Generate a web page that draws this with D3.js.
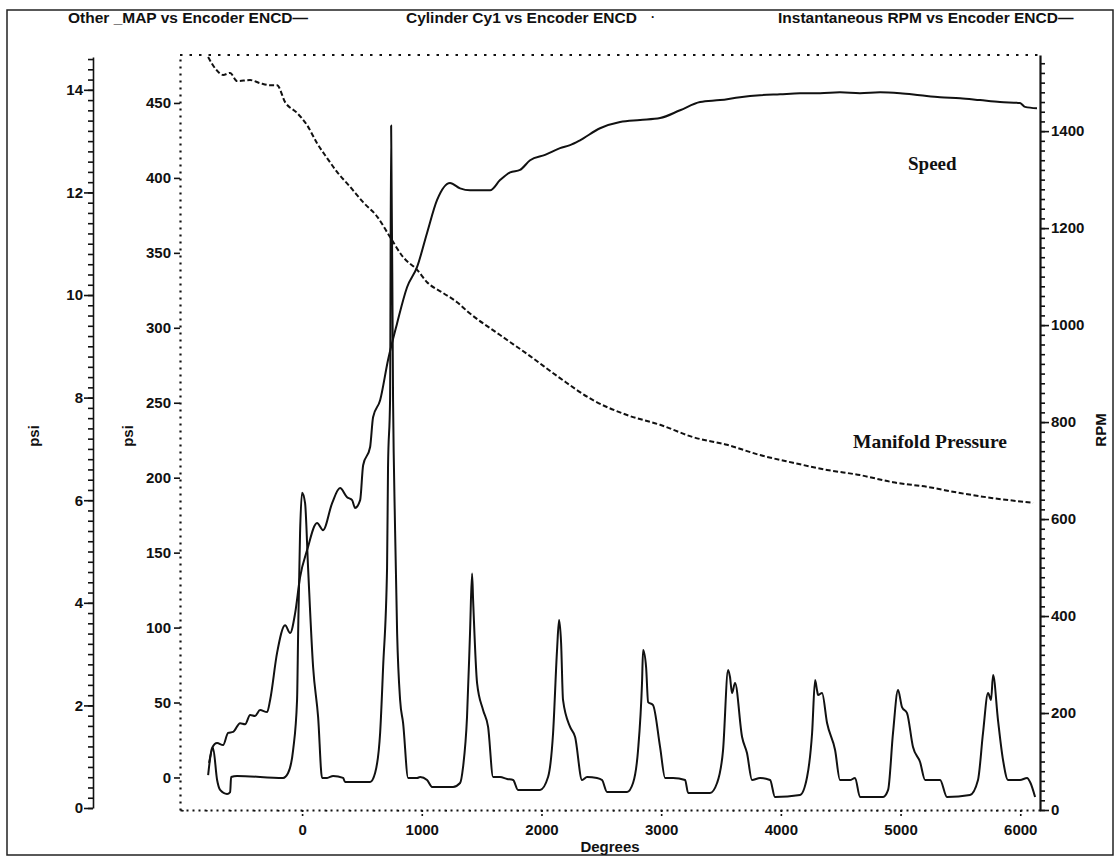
<!DOCTYPE html>
<html>
<head>
<meta charset="utf-8">
<script src="https://cdn.jsdelivr.net/npm/d3@7"></script>
<style>
  body { margin: 0; background: #fff; }
  svg { display: block; }
  text { font-family: "Liberation Sans", Arial, sans-serif; font-weight: bold; fill: #111; }
  .serif { font-family: "Liberation Serif", "Times New Roman", serif; }
</style>
</head>
<body>
<svg id="chart" width="1115" height="858"></svg>
<script>
// ---- Manifold pressure (psi) vs encoder angle (degrees)
const mapDeg = [-785, -727, -660, -601, -543, -434, -351, -267, -209, -142, -42, 42, 125, 209, 292, 401, 510, 627, 735, 844, 961, 1044, 1178, 1295, 1387, 1654, 1905, 2155, 2431, 2715, 2991, 3266, 3550, 3826, 4102, 4386, 4661, 4937, 5221, 5497, 5773, 6107];
const mapPsi = [14.64, 14.42, 14.29, 14.33, 14.17, 14.19, 14.13, 14.09, 14.09, 13.76, 13.55, 13.31, 12.96, 12.67, 12.40, 12.11, 11.81, 11.53, 11.13, 10.74, 10.49, 10.25, 10.04, 9.86, 9.67, 9.22, 8.81, 8.38, 7.95, 7.66, 7.47, 7.23, 7.08, 6.88, 6.73, 6.59, 6.49, 6.35, 6.26, 6.14, 6.04, 5.95];

// ---- Cylinder 1 pressure (psi) vs encoder angle (degrees)
const cylDeg = [-777, -744, -710, -685, -627, -601, -593, -543, -159, -117, -75, -42, -33, -17, 0, 25, 50, 92, 134, 167, 209, 259, 343, 359, 568, 610, 652, 677, 710, 718, 735, 744, 760, 777, 794, 819, 844, 886, 961, 986, 1044, 1086, 1261, 1320, 1345, 1378, 1403, 1420, 1429, 1462, 1512, 1554, 1596, 1654, 1713, 1763, 1804, 1988, 2055, 2097, 2130, 2147, 2164, 2180, 2239, 2281, 2339, 2381, 2464, 2506, 2548, 2715, 2765, 2807, 2840, 2849, 2874, 2891, 2932, 2991, 3033, 3099, 3200, 3225, 3408, 3467, 3517, 3559, 3575, 3592, 3617, 3676, 3717, 3759, 3826, 3910, 3951, 4160, 4219, 4261, 4286, 4302, 4311, 4344, 4386, 4453, 4494, 4578, 4620, 4661, 4854, 4896, 4937, 4979, 5012, 5054, 5104, 5163, 5205, 5330, 5388, 5580, 5647, 5689, 5731, 5756, 5773, 5814, 5856, 5898, 5998, 6057, 6082, 6124];
const cylPsi = [9.7, 19.7, -1.7, -8.3, -11, -9.7, 0.3, 1.0, -0.3, 3.0, 18.3, 51.7, 96.3, 163, 190, 183, 140, 73.7, 40.3, -0.3, -0.3, 1.0, -0.3, -3.0, -3.0, 3.0, 29.7, 73.7, 140, 207, 252, 435, 252, 165, 96.3, 51.7, 36.3, -0.3, -0.3, 0.3, -1.7, -6.3, -6.3, -3.7, 7.0, 40.3, 96.3, 136, 118, 63, 45, 33.7, 0.3, 0.3, -1.0, -1.7, -8.3, -8.3, 0.3, 29.7, 85, 105, 89.7, 51.7, 33.7, 27, -1.7, 0.3, -0.3, -1.7, -9.7, -9.7, -3.7, 18.3, 63, 85, 73.7, 50.3, 48.3, 20.3, -0.3, -0.3, -1.7, -10.3, -10.3, -3.7, 18.3, 71.7, 67, 56.3, 63, 27, 16.3, -1.7, -0.3, -1.7, -13, -11.7, 0.3, 29.7, 65, 58.3, 55, 56.3, 36.3, 18.3, -1.7, -1.7, -0.3, -13, -13, -8.3, 29.7, 58.3, 47, 43, 20.3, 10.3, -1.7, -1.7, -13, -11.7, -1.7, 29.7, 56.3, 51.7, 68.3, 38.3, 11.7, -1.7, -1.7, -0.3, -3, -13];

// ---- Instantaneous engine speed (RPM) vs encoder angle (degrees)
const rpmDeg = [-785, -752, -710, -660, -618, -576, -518, -476, -434, -393, -351, -292, -267, -209, -142, -100, -58, -17, 42, 125, 175, 251, 317, 376, 418, 443, 485, 510, 568, 593, 652, 718, 794, 877, 961, 1044, 1128, 1236, 1320, 1403, 1571, 1654, 1738, 1821, 1905, 2030, 2155, 2239, 2322, 2489, 2657, 2824, 2991, 3158, 3325, 3492, 3659, 3826, 3993, 4160, 4327, 4494, 4661, 4829, 4996, 5163, 5330, 5497, 5664, 5831, 5998, 6040, 6140];
const rpmVal = [72, 128, 138, 134, 159, 161, 179, 177, 196, 194, 206, 202, 227, 324, 381, 365, 406, 480, 536, 592, 577, 633, 664, 645, 639, 623, 639, 711, 748, 810, 845, 928, 1004, 1078, 1120, 1190, 1258, 1293, 1282, 1278, 1278, 1299, 1315, 1320, 1340, 1351, 1365, 1371, 1381, 1406, 1419, 1423, 1427, 1443, 1460, 1464, 1470, 1474, 1476, 1478, 1478, 1480, 1478, 1480, 1478, 1474, 1470, 1468, 1464, 1460, 1458, 1450, 1447];

// ---- Tick values and titles
const degTicks = [0, 1000, 2000, 3000, 4000, 5000, 6000];
const mapTicks = [0, 2, 4, 6, 8, 10, 12, 14];
const cylTicks = [0, 50, 100, 150, 200, 250, 300, 350, 400, 450];
const rpmTicks = [0, 200, 400, 600, 800, 1000, 1200, 1400];
const titles = ["Other _MAP vs Encoder ENCD\u2014", "Cylinder Cy1 vs Encoder ENCD", "Instantaneous RPM vs Encoder ENCD\u2014"];
const traceNames = ["Speed", "Manifold Pressure"];

const svg = d3.select("#chart");

// Plot geometry
const L = 180, R = 1040, T = 55, B = 810;
const mapAxisX = 93;

const x = d3.scaleLinear().domain([-1020, 6165]).range([L, R]);
const yMap = d3.scaleLinear().domain([0, 14.64]).range([808, 57]);
const yCyl = d3.scaleLinear().domain([-21.7, 482]).range([B, T]);
const yRpm = d3.scaleLinear().domain([0, 1557]).range([B, T]);

// Outer frame
svg.append("rect").attr("x", 7).attr("y", 10).attr("width", 1106).attr("height", 845)
  .attr("fill", "none").attr("stroke", "#222").attr("stroke-width", 1.5);

// Titles
const titleX = [68, 406, 778];
titles.forEach((t, i) => {
  svg.append("text").attr("x", titleX[i]).attr("y", 23).attr("font-size", 15.5).text(t);
});
svg.append("text").attr("x", 651).attr("y", 21).attr("font-size", 12).text("\u00b7");

// Dotted top edge of the plot frame
svg.append("line").attr("x1", L).attr("x2", R).attr("y1", T).attr("y2", T)
  .attr("stroke", "#111").attr("stroke-width", 2.2).attr("stroke-dasharray", "2.5,7");

function styleAxis(g, dash, width) {
  g.selectAll("path.domain").attr("stroke", "#111").attr("stroke-width", width)
    .attr("stroke-dasharray", dash);
  g.selectAll(".tick line").attr("stroke", "#111").attr("stroke-width", 1.6);
  g.selectAll(".tick text").attr("font-size", 15).attr("font-family", "Liberation Sans, Arial, sans-serif")
    .attr("font-weight", "bold").attr("fill", "#111");
}

// Far-left MAP psi axis: minor ticks every 0.2 psi
const mapMinor = svg.append("g").attr("transform", `translate(${mapAxisX},0)`)
  .call(d3.axisLeft(yMap).tickValues(d3.range(0, 14.61, 0.2)).tickSize(5).tickSizeOuter(0).tickFormat(""));
styleAxis(mapMinor, "none", 1.6);
const mapAxis = svg.append("g").attr("transform", `translate(${mapAxisX},0)`)
  .call(d3.axisLeft(yMap).tickValues(mapTicks).tickSize(9).tickPadding(1).tickSizeOuter(0).tickFormat(d3.format("d")));
mapAxis.select("path.domain").remove();
styleAxis(mapAxis, "none", 1.6);

// Cylinder psi axis (dotted)
const cylAxis = svg.append("g").attr("transform", `translate(${L},0)`)
  .call(d3.axisLeft(yCyl).tickValues(cylTicks).tickSize(6).tickPadding(3).tickSizeOuter(0).tickFormat(d3.format("d")));
styleAxis(cylAxis, "2,5", 2.2);

// RPM axis on the right (solid) with minor ticks every 20 RPM
const rpmMinor = svg.append("g").attr("transform", `translate(${R},0)`)
  .call(d3.axisRight(yRpm).tickValues(d3.range(0, 1557, 20)).tickSize(5).tickSizeOuter(0).tickFormat(""));
styleAxis(rpmMinor, "none", 2.2);
const rpmAxis = svg.append("g").attr("transform", `translate(${R},0)`)
  .call(d3.axisRight(yRpm).tickValues(rpmTicks).tickSize(9).tickPadding(2).tickSizeOuter(0).tickFormat(d3.format("d")));
rpmAxis.select("path.domain").remove();
styleAxis(rpmAxis, "none", 2.2);

// Degrees axis along the bottom (dotted)
const degMinor = svg.append("g").attr("transform", `translate(0,${B})`)
  .call(d3.axisBottom(x).tickValues(d3.range(-1000, 6165, 200)).tickSize(3).tickSizeOuter(0).tickFormat(""));
styleAxis(degMinor, "2,4", 2.2);
degMinor.selectAll(".tick line").attr("stroke-dasharray", "1.5,1.5");
const degAxis = svg.append("g").attr("transform", `translate(0,${B})`)
  .call(d3.axisBottom(x).tickValues(degTicks).tickSize(6).tickPadding(8).tickSizeOuter(0).tickFormat(d3.format("d")));
degAxis.select("path.domain").remove();
styleAxis(degAxis, "none", 2);
degAxis.selectAll(".tick line").attr("stroke-dasharray", "2,2");

// Axis titles
function vlabel(px, py, t) {
  svg.append("text").attr("transform", `translate(${px},${py}) rotate(-90)`)
    .attr("text-anchor", "middle").attr("font-size", 15).text(t);
}
vlabel(39, 436, "psi");
vlabel(133, 436, "psi");
vlabel(1106, 430, "RPM");
svg.append("text").attr("x", (L + R) / 2).attr("y", 852).attr("text-anchor", "middle")
  .attr("font-size", 15).text("Degrees");

// Traces
const mapData = mapDeg.map((d, i) => [d, mapPsi[i]]);
const cylData = cylDeg.map((d, i) => [d, cylPsi[i]]);
const rpmData = rpmDeg.map((d, i) => [d, rpmVal[i]]);

svg.append("path").datum(mapData)
  .attr("d", d3.line().x(d => x(d[0])).y(d => yMap(d[1])).curve(d3.curveMonotoneX))
  .attr("fill", "none").attr("stroke", "#111").attr("stroke-width", 2)
  .attr("stroke-dasharray", "5,2.5");

svg.append("path").datum(cylData)
  .attr("d", d3.line().x(d => x(d[0])).y(d => yCyl(d[1])).curve(d3.curveMonotoneX))
  .attr("fill", "none").attr("stroke", "#111").attr("stroke-width", 2).attr("stroke-linejoin", "round");

svg.append("path").datum(rpmData)
  .attr("d", d3.line().x(d => x(d[0])).y(d => yRpm(d[1])).curve(d3.curveMonotoneX))
  .attr("fill", "none").attr("stroke", "#111").attr("stroke-width", 2).attr("stroke-linejoin", "round");

// Trace annotations
svg.append("text").attr("class", "serif").attr("x", 908).attr("y", 170)
  .attr("font-size", 19).attr("font-family", "Liberation Serif, Times New Roman, serif").text(traceNames[0]);
svg.append("text").attr("class", "serif").attr("x", 853).attr("y", 448)
  .attr("font-size", 19).attr("font-family", "Liberation Serif, Times New Roman, serif")
  .attr("textLength", 154).attr("lengthAdjust", "spacingAndGlyphs").text(traceNames[1]);
</script>
</body>
</html>
